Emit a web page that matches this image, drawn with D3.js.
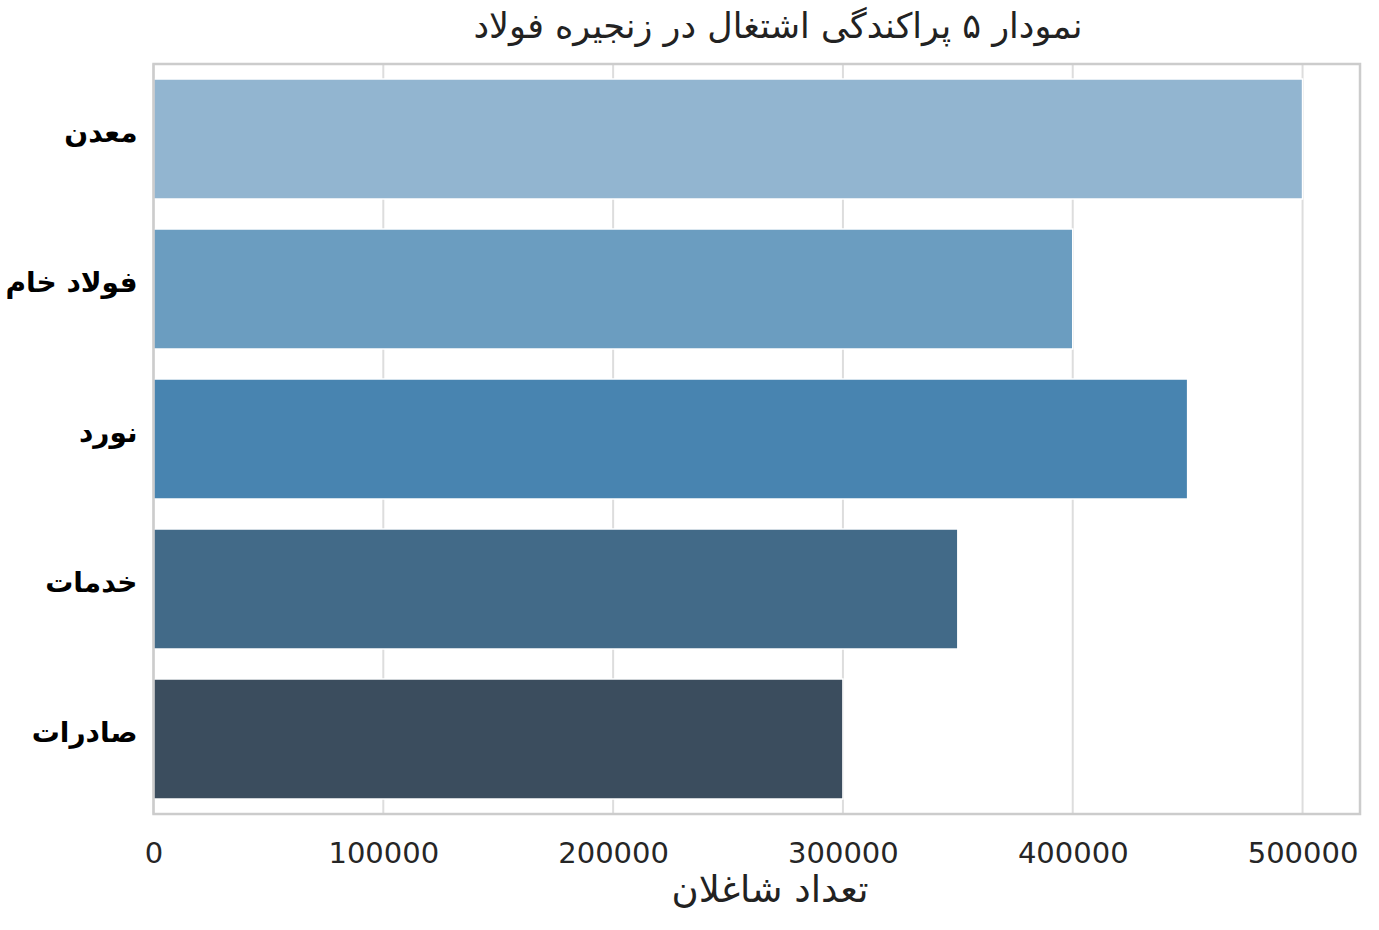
<!DOCTYPE html>
<html><head><meta charset="utf-8">
<script src="https://cdn.jsdelivr.net/npm/d3@7"></script>
<style>body{margin:0;background:#fff}</style>
</head><body>
<svg id="c" width="1379" height="930"></svg>
<script>
const categories = ["معدن", "فولاد خام", "نورد", "خدمات", "صادرات"];
const values = [500000, 400000, 450000, 350000, 300000];
const colors = ["#92b5d0", "#6b9dc0", "#4884b0", "#426a88", "#3b4d5e"];
const ticks = [0, 100000, 200000, 300000, 400000, 500000];
const title = "نمودار ۵ پراکندگی اشتغال در زنجیره فولاد";
const xLabel = "تعداد شاغلان";

const svg = d3.select("#c");
const m = {l:153.5, r:1360, t:64, b:814};
const x = d3.scaleLinear().domain([0, 525000]).range([m.l, m.r]);
const y = d3.scaleBand().domain(categories).range([m.t, m.b]).paddingInner(0.2).paddingOuter(0.1);

// grid
svg.append("g").selectAll("line").data(ticks).join("line")
  .attr("x1", d=>x(d)).attr("x2", d=>x(d)).attr("y1", m.t).attr("y2", m.b)
  .attr("stroke", "#dddddd").attr("stroke-width", 2);

// bars
svg.append("g").selectAll("rect").data(categories).join("rect")
  .attr("x", x(0)).attr("y", d=>y(d))
  .attr("width", (d,i)=>x(values[i])-x(0)).attr("height", y.bandwidth())
  .attr("fill", (d,i)=>colors[i]).attr("stroke", "#fff").attr("stroke-width", 1.5);

// frame
svg.append("rect").attr("x", m.l).attr("y", m.t).attr("width", m.r-m.l).attr("height", m.b-m.t)
  .attr("fill", "none").attr("stroke", "#cccccc").attr("stroke-width", 2.5);

// x axis
const xa = svg.append("g").attr("transform", `translate(0,${m.b})`)
  .call(d3.axisBottom(x).tickValues(ticks).tickFormat(d3.format("d")).tickSize(0).tickPadding(28));
xa.select(".domain").remove();
xa.selectAll("text").attr("font-family", "DejaVu Sans").attr("font-size", 29).attr("fill", "#262626");

// y axis
const ya = svg.append("g").attr("transform", `translate(${m.l},0)`)
  .call(d3.axisLeft(y).tickSize(0).tickPadding(16));
ya.select(".domain").remove();
ya.selectAll("text").attr("font-family", "DejaVu Sans").attr("font-size", 28).attr("font-weight", "bold")
  .attr("fill", "#000").attr("dy", "0.1em");

svg.append("text").attr("x", 778).attr("y", 38).attr("text-anchor", "middle")
  .attr("font-family", "DejaVu Sans").attr("font-size", 35).attr("fill", "#222").text(title);
svg.append("text").attr("x", 770).attr("y", 902).attr("text-anchor", "middle")
  .attr("font-family", "DejaVu Sans").attr("font-size", 37).attr("fill", "#222").text(xLabel);
</script>
</body></html>
